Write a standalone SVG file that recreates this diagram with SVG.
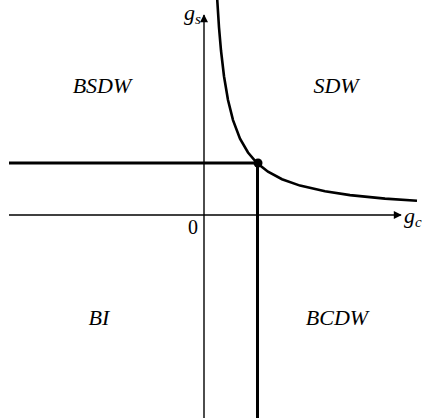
<svg xmlns="http://www.w3.org/2000/svg" width="426" height="418" viewBox="0 0 426 418">
<style>
.lbl{font-family:"Liberation Serif","Times New Roman",serif;font-style:italic;font-size:22px;fill:#000}
.ax{stroke:#000;stroke-width:1.4;fill:none}
.thick{stroke:#000;stroke-width:3;fill:none}
</style>
<defs>
<marker id="arr" viewBox="0 0 10 10" refX="9" refY="5" markerWidth="10" markerHeight="8" markerUnits="userSpaceOnUse" orient="auto">
<path d="M0,0 L10,5 L0,10 z" fill="#000"/>
</marker>
</defs>
<rect width="426" height="418" fill="#fff"/>
<g id="connectors">
<line id="x-axis" class="ax" x1="9" y1="215" x2="401" y2="215" marker-end="url(#arr)"/>
<line id="y-axis" class="ax" x1="204" y1="418" x2="204" y2="15" marker-end="url(#arr)"/>
<line id="h-thick" class="thick" x1="9" y1="163" x2="258" y2="163"/>
<line id="v-thick" class="thick" x1="257.5" y1="163" x2="257.5" y2="418"/>
<polyline id="curve" fill="none" stroke="#000" stroke-width="2.6" points="217,-4 219,27.3 221,50.5 224,76.2 228,100 233,120.1 240,138.7 248,152.5 257,163 268,171.7 282,179.2 300,185.6 325,191.3 350,195.1 385,198.6 417,200.7"/>
</g>
<g id="point"><circle cx="258" cy="163" r="4.5" fill="#000"/></g>
<g id="axis-labels">
<text class="lbl" x="184" y="20" font-size="21">g<tspan font-size="15" dy="4">s</tspan></text>
<text x="188" y="234" font-family="Liberation Serif, serif" font-size="20">0</text>
<text class="lbl" x="404" y="223" font-size="21">g<tspan font-size="15" dy="4">c</tspan></text>
</g>
<g id="BSDW"><text class="lbl" x="102" y="93" text-anchor="middle">BSDW</text></g>
<g id="SDW"><text class="lbl" x="336" y="93" text-anchor="middle">SDW</text></g>
<g id="BI"><text class="lbl" x="99" y="325" text-anchor="middle">BI</text></g>
<g id="BCDW"><text class="lbl" x="337" y="325" text-anchor="middle">BCDW</text></g>
</svg>
